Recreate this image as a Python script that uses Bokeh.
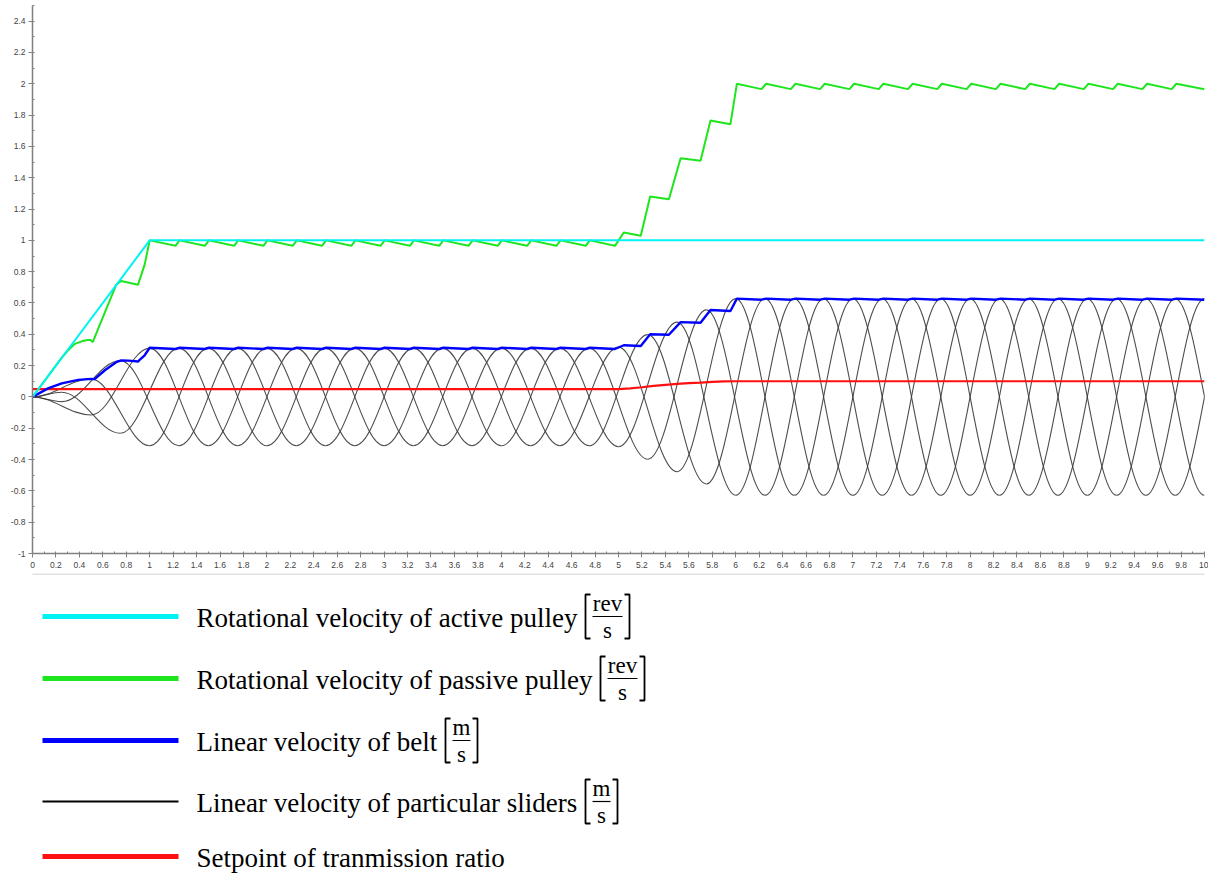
import numpy as np
from bokeh.plotting import figure
from bokeh.layouts import column
from bokeh.models import Range1d, FixedTicker, CustomJSTickFormatter, ColumnDataSource
from bokeh.core.properties import value
from bokeh.embed import file_html
from bokeh.resources import INLINE

# ---------------- data ----------------
# rotational velocity of active pulley [rev/s]
active_t = [0.0, 1.0, 10.0]
active_v = [0.0, 1.0, 1.0]

# rotational velocity of passive pulley [rev/s]
green_ramp_t = [0.0, 0.12, 0.243, 0.30, 0.357, 0.42, 0.47, 0.495, 0.514, 0.614, 0.714,
                0.757, 0.90, 0.914, 0.957, 1.0]
green_ramp_v = [0.0, 0.12, 0.245, 0.295, 0.337, 0.355, 0.363, 0.364, 0.35, 0.533, 0.716,
                0.741, 0.716, 0.748, 0.845, 1.0]
green_p1_t = [1.22, 1.255, 1.47, 1.505, 1.72, 1.755, 1.97, 2.005, 2.22, 2.255, 2.47, 2.505,
              2.72, 2.755, 2.97, 3.005, 3.22, 3.255, 3.47, 3.505, 3.72, 3.755, 3.97, 4.005,
              4.22, 4.255, 4.47, 4.505, 4.72, 4.755, 4.97]
green_p1_v = [0.965, 1.0] * 15 + [0.965]
green_tr_t = [5.045, 5.19, 5.27, 5.43, 5.53, 5.70, 5.785, 5.955, 6.01]
green_tr_v = [1.05, 1.03, 1.28, 1.263, 1.525, 1.508, 1.766, 1.742, 2.0]
green_p2_t = [6.22, 6.26, 6.47, 6.51, 6.72, 6.76, 6.97, 7.01, 7.22, 7.26, 7.47, 7.51,
              7.72, 7.76, 7.97, 8.01, 8.22, 8.26, 8.47, 8.51, 8.72, 8.76, 8.97, 9.01,
              9.22, 9.26, 9.47, 9.51, 9.72, 9.76, 10.0]
green_p2_v = [1.966, 2.0] * 15 + [1.965]

# linear velocity of belt [m/s]
blue_ramp_t = [0.0, 0.137, 0.25, 0.39, 0.5, 0.53, 0.62, 0.714, 0.757, 0.82, 0.90, 0.914,
               0.957, 1.0]
blue_ramp_v = [0.0, 0.056, 0.087, 0.109, 0.115, 0.114, 0.172, 0.222, 0.233, 0.232, 0.226,
               0.236, 0.266, 0.314]
blue_p1_v = [0.306, 0.314] * 15 + [0.306]
blue_tr_v = [0.33, 0.325, 0.40, 0.397, 0.478, 0.474, 0.555, 0.549, 0.628]
blue_p2_v = [0.621, 0.628] * 15 + [0.621]

# setpoint of transmission ratio
red_t = [0.0, 5.0, 5.1, 5.2, 5.3, 5.4, 5.5, 5.6, 5.7, 5.8, 5.9, 6.0, 10.0]
red_v = [0.05, 0.05, 0.055, 0.062, 0.071, 0.077, 0.083, 0.088, 0.091, 0.096, 0.099, 0.1, 0.1]

# extreme value reached by a slider at every quarter second (0, 0.25, ... 10.25)
slider_amp = ([0.0, 0.03, 0.115, 0.232, 0.312] + [0.312] * 15 +
              [0.318, 0.398, 0.478, 0.556, 0.628] + [0.628] * 17)
slider_t = [0.25 * k for k in range(len(slider_amp))]

legend_labels = ["Rotational velocity of active pulley",
                 "Rotational velocity of passive pulley",
                 "Linear velocity of belt",
                 "Linear velocity of particular sliders",
                 "Setpoint of tranmission ratio"]
legend_units = [("rev", "s"), ("rev", "s"), ("m", "s"), ("m", "s"), None]

x_ticks = [round(0.2 * i, 1) for i in range(51)]
x_minor = [round(0.1 * i, 1) for i in range(101)]
y_ticks = [round(-1 + 0.2 * i, 1) for i in range(18)]
y_minor = [round(-1 + 0.1 * i, 1) for i in range(36)]

# ---------------- colours ----------------
C_CYAN = "#00f2f2"
C_GREEN = "#1ee61e"
C_BLUE = "#0000ff"
C_BLACK = "#3a3a3a"
C_RED = "#ff1010"

# ---------------- main figure ----------------
BL, BR = 32, 4
p = figure(width=1208, height=573, x_range=Range1d(0, 10), y_range=Range1d(-1, 2.5),
           output_backend="svg", toolbar_location=None,
           min_border_left=BL, min_border_right=BR, min_border_top=5, min_border_bottom=20)
p.outline_line_color = None
p.grid.visible = False
p.background_fill_color = "white"
p.border_fill_color = "white"

fmt = CustomJSTickFormatter(code="return Number(tick.toFixed(2)).toString();")
for ax, tk, mn in ((p.xaxis[0], x_ticks, x_minor), (p.yaxis[0], y_ticks, y_minor)):
    ax.ticker = FixedTicker(ticks=tk, minor_ticks=mn)
    ax.formatter = fmt
    ax.axis_line_color = "#808080"
    ax.axis_line_width = 1.5
    ax.major_tick_line_color = "#808080"
    ax.minor_tick_line_color = "#808080"
    ax.major_tick_out = 4
    ax.major_tick_in = 0
    ax.minor_tick_out = 0
    ax.minor_tick_in = 2
    ax.major_label_text_font = "Liberation Sans"
    ax.major_label_text_font_size = "8.5px"
    ax.major_label_text_color = "#444444"
p.xaxis.major_label_standoff = 4
p.yaxis.major_label_standoff = 3

# slider curves: half-cosine arcs between successive extremes (cubic Bezier)
H = 1 - 2 / np.pi
seg = {k: [] for k in ("x0", "y0", "x1", "y1", "cx0", "cy0", "cx1", "cy1")}


def sgn(k):
    return 1.0 if (k // 2) % 2 == 1 else -1.0


def add_curve(pts):
    for (ta, va), (tb, vb) in zip(pts[:-1], pts[1:]):
        d = tb - ta
        seg["x0"].append(ta); seg["y0"].append(va)
        seg["x1"].append(tb); seg["y1"].append(vb)
        seg["cx0"].append(ta + H * d); seg["cy0"].append(va)
        seg["cx1"].append(tb - H * d); seg["cy1"].append(vb)


even = [(slider_t[k], sgn(k) * slider_amp[k]) for k in range(0, len(slider_amp), 2)]
odd = [(0.0, 0.0)] + [(slider_t[k], sgn(k) * slider_amp[k]) for k in range(1, len(slider_amp), 2)]
for pts in (even, odd):
    add_curve(pts)
    add_curve([(t, -v) for t, v in pts])

p.bezier(x0="x0", y0="y0", x1="x1", y1="y1", cx0="cx0", cy0="cy0", cx1="cx1", cy1="cy1",
         source=ColumnDataSource(seg), line_color=C_BLACK, line_width=1.1, line_alpha=0.9)

p.line(red_t, red_v, line_color=C_RED, line_width=2.2)

blue_t = blue_ramp_t + green_p1_t + green_tr_t + green_p2_t
blue_v = blue_ramp_v + blue_p1_v + blue_tr_v + blue_p2_v
p.line(blue_t, blue_v, line_color=C_BLUE, line_width=2.4)

green_t = green_ramp_t + green_p1_t + green_tr_t + green_p2_t
green_v = green_ramp_v + green_p1_v + green_tr_v + green_p2_v
p.line(green_t, green_v, line_color=C_GREEN, line_width=2)

p.line(active_t, active_v, line_color=C_CYAN, line_width=2)

# ---------------- legend figure (page pixel coordinates) ----------------
TOP = 573
LH = 300
leg = figure(width=1208, height=LH, x_range=Range1d(BL, 1208 - BR), y_range=Range1d(TOP + LH, TOP),
             output_backend="svg", toolbar_location=None, x_axis_type=None, y_axis_type=None,
             min_border_left=BL, min_border_right=BR, min_border_top=0, min_border_bottom=0)
leg.outline_line_color = None
leg.grid.visible = False

leg.segment(x0=[0], y0=[TOP + 0.5], x1=[1212], y1=[TOP + 0.5], line_color="#c4c4c4", line_width=1)

item_y = [616, 678, 740, 801, 856]
item_color = [C_CYAN, C_GREEN, C_BLUE, "#000000", C_RED]
item_width = [5, 5, 5, 2, 5]
for cy, col, w in zip(item_y, item_color, item_width):
    leg.segment(x0=[42], y0=[cy], x1=[178], y1=[cy], line_color=col, line_width=w)

leg.text(x=[196] * 5, y=[cy + 1 for cy in item_y], text=legend_labels,
         text_font=value("Liberation Serif"), text_font_size="27px",
         text_baseline="alphabetic", text_align="left", text_color="#000000")

bracket_left = [584, 599, 444, 584]
for cy, unit, L in zip(item_y, legend_units, bracket_left + [None]):
    if unit is None:
        continue
    num, den = unit
    wdt = 46 if len(num) > 1 else 34
    R = L + wdt
    top, bot = cy - 22, cy + 22
    leg.multi_line(xs=[[L + 6, L + 1, L + 1, L + 6], [R - 6, R - 1, R - 1, R - 6]],
                   ys=[[top, top, bot, bot], [top, top, bot, bot]],
                   line_color="#000000", line_width=1.8)
    leg.segment(x0=[L + 8], y0=[cy], x1=[R - 8], y1=[cy], line_color="#000000", line_width=1.2)
    leg.text(x=[(L + R) / 2, (L + R) / 2], y=[cy - 13, cy + 14], text=[num, den],
             text_font=value("Liberation Serif"), text_font_size="23px",
             text_baseline="alphabetic", text_align="center", text_color="#000000")

layout = column(p, leg, spacing=0)
open("out.html", "w").write(file_html(layout, INLINE))
